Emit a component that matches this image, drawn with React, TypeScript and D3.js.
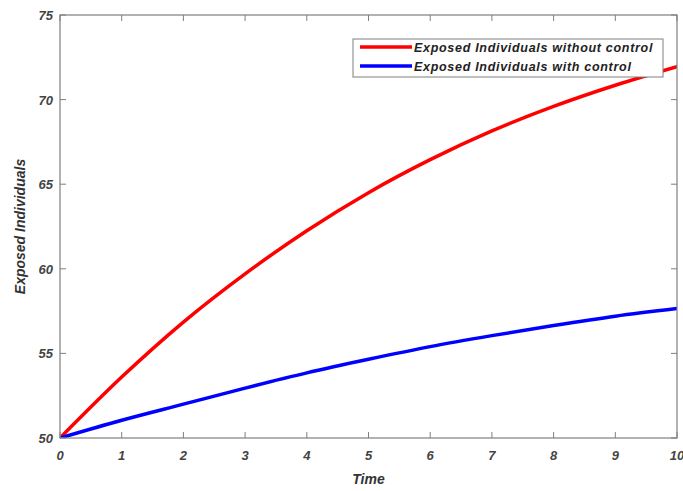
import React from "react";
import * as d3 from "d3";

const times = [0, 1, 2, 3, 4, 5, 6, 7, 8, 9, 10];
const withoutControl = [50, 53.6, 56.85, 59.7, 62.25, 64.5, 66.45, 68.15, 69.6, 70.85, 71.95];
const withControl = [50, 51.05, 52.0, 52.95, 53.85, 54.65, 55.4, 56.05, 56.65, 57.2, 57.65];
const xTicks = [0, 1, 2, 3, 4, 5, 6, 7, 8, 9, 10];
const yTicks = [50, 55, 60, 65, 70, 75];
const seriesNames = ["Exposed Individuals without control", "Exposed Individuals with control"];
const seriesColors = ["#ff0000", "#0000ff"];

const W = 683, H = 491;
const L = 60, R = 677, T = 15, B = 438;

export default function App() {
  const x = d3.scaleLinear().domain([0, 10]).range([L, R]);
  const y = d3.scaleLinear().domain([50, 75]).range([B, T]);
  const line = d3.line<number>().x((_, i) => x(times[i])).y((d) => y(d)).curve(d3.curveMonotoneX);
  const series = [withoutControl, withControl];
  const axisColor = "#7f7f7f";
  const font = "'Liberation Sans', Arial, sans-serif";
  return (
    <svg width={W} height={H} style={{ position: "absolute", left: 0, top: 0, background: "#fff" }} fontFamily={font}>
      <rect x={0} y={0} width={W} height={H} fill="#fff" />
      <defs>
        <clipPath id="plot"><rect x={L} y={T} width={R - L} height={B - T} /></clipPath>
      </defs>
      {series.map((s, k) => (
        <path key={k} d={line(s) || ""} fill="none" stroke={seriesColors[k]} strokeWidth={3.5} clipPath="url(#plot)" strokeLinecap="round" />
      ))}
      <rect x={L} y={T} width={R - L} height={B - T} fill="none" stroke={axisColor} strokeWidth={1.2} />
      {xTicks.map((t) => (
        <g key={"x" + t}>
          <line x1={x(t)} x2={x(t)} y1={B} y2={B - 6} stroke={axisColor} />
          <line x1={x(t)} x2={x(t)} y1={T} y2={T + 6} stroke={axisColor} />
          <text x={x(t)} y={B + 22} textAnchor="middle" fontSize={13} fontWeight="bold" fontStyle="italic" fill="#444">{t}</text>
        </g>
      ))}
      {yTicks.map((t) => (
        <g key={"y" + t}>
          <line x1={L} x2={L + 6} y1={y(t)} y2={y(t)} stroke={axisColor} />
          <line x1={R} x2={R - 6} y1={y(t)} y2={y(t)} stroke={axisColor} />
          <text x={L - 7} y={y(t) + 5} textAnchor="end" fontSize={13} fontWeight="bold" fontStyle="italic" fill="#444">{t}</text>
        </g>
      ))}
      <text x={(L + R) / 2} y={484} textAnchor="middle" fontSize={14} fontWeight="bold" fontStyle="italic" fill="#333">Time</text>
      <text transform={`translate(25,${(T + B) / 2}) rotate(-90)`} textAnchor="middle" fontSize={14} fontWeight="bold" fontStyle="italic" fill="#333">Exposed Individuals</text>
      <g>
        <rect x={353} y={39} width={310} height={38} fill="#fff" stroke={axisColor} strokeWidth={1} />
        {seriesNames.map((n, k) => (
          <g key={n}>
            <line x1={360} x2={412} y1={47 + k * 19} y2={47 + k * 19} stroke={seriesColors[k]} strokeWidth={3.5} />
            <text x={414} y={51.5 + k * 19} fontSize={12.5} letterSpacing={0.7} fontWeight="bold" fontStyle="italic" fill="#222">{n}</text>
          </g>
        ))}
      </g>
    </svg>
  );
}
